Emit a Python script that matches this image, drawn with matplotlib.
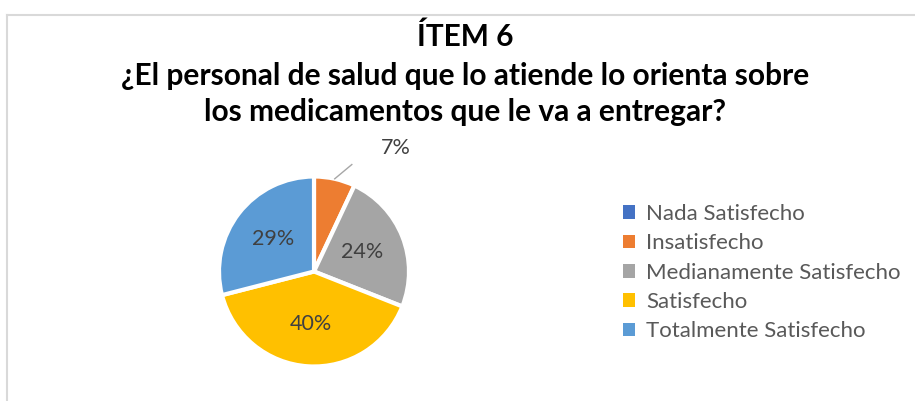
import matplotlib
matplotlib.use("Agg")
import matplotlib.pyplot as plt
import numpy as np
from matplotlib.lines import Line2D

categories = ["Nada Satisfecho", "Insatisfecho", "Medianamente Satisfecho",
              "Satisfecho", "Totalmente Satisfecho"]
values = [0, 7, 24, 40, 29]
colors = ["#4472C4", "#ED7D31", "#A5A5A5", "#FFC000", "#5B9BD5"]
title_lines = ["ÍTEM 6", "¿El personal de salud que lo atiende lo orienta sobre",
               "los medicamentos que le va a entregar?"]

W, H = 915, 401
fig = plt.figure(figsize=(W / 100, H / 100), dpi=100)
fig.patch.set_facecolor("white")

# chart border
fig.add_artist(Line2D([7 / W, 7 / W], [0, 1 - 15 / H], transform=fig.transFigure,
                      color="#D9D9D9", lw=1.5))
fig.add_artist(Line2D([7 / W, 1], [1 - 15 / H, 1 - 15 / H], transform=fig.transFigure,
                      color="#D9D9D9", lw=1.5))

# pie axes: center (314,272) px, radius ~ 95 px
cx, cy, R = 314, 271.5, 95
half = 110
ax = fig.add_axes([(cx - half) / W, (H - cy - half) / H, 2 * half / W, 2 * half / H])

def fmt(p):
    v = int(round(p))
    return f"{v}%" if v >= 10 else ""

wedges, texts, autotexts = ax.pie(values, colors=colors, startangle=90, counterclock=False,
                                  autopct=fmt, pctdistance=0.55, radius=1.0,
                                  wedgeprops=dict(edgecolor="white", linewidth=3),
                                  textprops=dict(color="#404040", fontsize=15.5, family="Lato"),
                                  normalize=True)
ax.set_xlim(-half / R, half / R)
ax.set_ylim(-half / R, half / R)
ax.set_aspect("equal")
ax.axis("off")

# small slice label with leader line
total = sum(values)
start = 90.0
for v, w in zip(values, wedges):
    ang = start - v / total * 360 / 2
    start -= v / total * 360
    if 0 < v < 10:
        a = np.deg2rad(ang)
        p0 = (1.0 * np.cos(a), 1.0 * np.sin(a))
        p1 = (p0[0] + 0.18, p0[1] + 0.15)
        ax.plot([p0[0], p1[0]], [p0[1], p1[1]], color="#A6A6A6", lw=1, clip_on=False)
        ax.text(p1[0] + 0.46, p1[1] + 0.17, f"{v}%", ha="center", va="center",
                color="#404040", fontsize=15.5, family="Lato", clip_on=False)

# title
ty = [37, 76, 112]
for t, y in zip(title_lines, ty):
    fig.text(465 / W, 1 - y / H, t, ha="center", va="center", fontsize=21.5,
             fontweight="bold", family="Lato", color="#000000")

leg = fig.legend(wedges, categories, loc="upper left",
                 bbox_to_anchor=(603 / W, 1 - 184 / H), frameon=False,
                 handlelength=0.55, handleheight=0.55, handletextpad=0.5,
                 labelspacing=0.42, prop=dict(family="Lato", size=16))
for t in leg.get_texts():
    t.set_color("#595959")
for h in leg.legend_handles:
    h.set_edgecolor("none")

fig.savefig("out.png", dpi=100, facecolor="white")
